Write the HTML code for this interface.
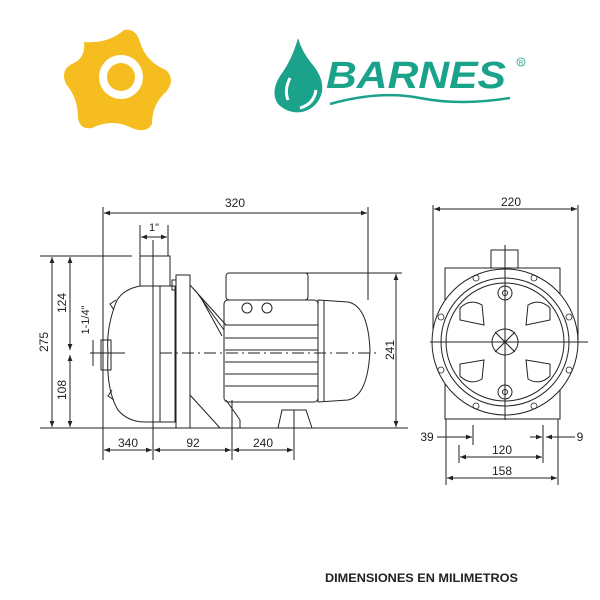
<!DOCTYPE html>
<html><head><meta charset="utf-8"><style>
html,body{margin:0;padding:0;background:#fff;width:600px;height:600px;overflow:hidden}
svg{display:block;font-family:"Liberation Sans",sans-serif}
</style></head><body>
<svg width="600" height="600" viewBox="0 0 600 600" xmlns="http://www.w3.org/2000/svg">
<defs>
<marker id="a" viewBox="0 0 10 10" refX="10" refY="5" markerWidth="6" markerHeight="6" orient="auto-start-reverse"><path d="M0,1 L10,5 L0,9 z" fill="#222"/></marker>
</defs>
<!-- yellow gear logo -->
<path d="M84,42 Q108,44 124,30 Q136,28 140,42 Q146,62 166,70 Q176,80 166,92 Q152,104 152,124 Q146,134 132,128 Q112,118 92,128 Q80,130 78,118 Q78,98 66,84 Q60,70 72,64 Q86,58 84,42 Z" fill="#f5bd1f"/>
<circle cx="121" cy="77" r="22" fill="#fff"/>
<circle cx="121" cy="77" r="14" fill="#f5bd1f"/>
<!-- Barnes logo -->
<path d="M298,38 Q292,60 280,76 Q270,92 278,104 Q288,114 302,112 Q318,108 322,92 Q324,78 312,64 Q302,52 298,38 Z" fill="#1aa38a"/>
<path d="M290,78 Q284,90 288,100" stroke="#fff" stroke-width="3" fill="none"/>
<path d="M300,108 Q314,104 316,90" stroke="#fff" stroke-width="3" fill="none"/>
<text x="326" y="88" font-size="38" font-weight="bold" font-style="italic" fill="#1aa38a" textLength="180" lengthAdjust="spacingAndGlyphs">BARNES</text>
<circle cx="521" cy="62" r="4" fill="none" stroke="#1aa38a" stroke-width="0.8"/>
<text x="521" y="64.5" font-size="6" fill="#1aa38a" text-anchor="middle">R</text>
<path d="M330,104 Q380,90 420,98 Q460,106 510,98" stroke="#1aa38a" stroke-width="2.5" fill="none"/>

<g stroke="#222" stroke-width="1" fill="none">
<line x1="103" y1="207" x2="103" y2="460"/>
<line x1="368" y1="207" x2="368" y2="300"/>
<line x1="140" y1="225" x2="140" y2="256"/>
<line x1="168" y1="225" x2="168" y2="256"/>
<line x1="40" y1="256" x2="132" y2="256"/>
<line x1="40" y1="428" x2="408" y2="428"/>
<line x1="300" y1="273" x2="402" y2="273"/>
<line x1="153" y1="240" x2="153" y2="460"/>
<line x1="232" y1="400" x2="232" y2="460"/>
<line x1="294" y1="410" x2="294" y2="460"/>
<line x1="90" y1="353" x2="125" y2="353"/>
<line x1="104" y1="213" x2="367" y2="213" marker-start="url(#a)" marker-end="url(#a)"/>
<line x1="141" y1="237" x2="167" y2="237" marker-start="url(#a)" marker-end="url(#a)"/>
<line x1="52" y1="257" x2="52" y2="427" marker-start="url(#a)" marker-end="url(#a)"/>
<line x1="70" y1="257" x2="70" y2="350" marker-start="url(#a)" marker-end="url(#a)"/>
<line x1="70" y1="355" x2="70" y2="427" marker-start="url(#a)" marker-end="url(#a)"/>
<line x1="93" y1="340" x2="93" y2="366"/>
<line x1="396" y1="274" x2="396" y2="427" marker-start="url(#a)" marker-end="url(#a)"/>
<line x1="104" y1="450" x2="152" y2="450" marker-start="url(#a)" marker-end="url(#a)"/>
<line x1="154" y1="450" x2="231" y2="450" marker-start="url(#a)" marker-end="url(#a)"/>
<line x1="233" y1="450" x2="293" y2="450" marker-start="url(#a)" marker-end="url(#a)"/>
<rect x="140" y="256" width="30" height="30"/>
<path d="M140,286 Q120,290 115,305 Q106,330 108,353 Q106,390 118,410 Q128,422 145,422 L175,422 L175,286 Z"/>
<path d="M116,300 l-6,4 l4,6 M114,400 l-6,-4 l4,-6"/>
<rect x="101" y="340" width="10" height="30"/>
<path d="M160,286 L160,422"/>
<rect x="176" y="275" width="14" height="153"/>
<rect x="172" y="280" width="4" height="10"/>
<path d="M190,285 L226,325 M195,290 L224,330 M200,296 L222,336 M190,395 L220,428 L240,428 L240,420 L226,400"/>
<rect x="224" y="300" width="94" height="102" rx="4"/>
<rect x="226" y="273" width="82" height="27" rx="3"/>
<circle cx="247" cy="308" r="5"/><circle cx="267" cy="308" r="5"/>
<path d="M225,325 H318 M225,338 H318 M225,350 H318 M225,362 H318 M225,374 H318 M225,386 H318"/>
<path d="M318,300 L348,302 Q368,306 370,350 Q368,396 348,400 L318,402 Z"/>
<path d="M324,301 L324,401"/>
<path d="M282,410 L306,410 L312,428 L278,428 Z"/>
<path d="M160,353 H380" stroke-dasharray="12,4,2,4"/>
<line x1="433" y1="205" x2="433" y2="345"/>
<line x1="578" y1="205" x2="578" y2="345"/>
<line x1="434" y1="209" x2="577" y2="209" marker-start="url(#a)" marker-end="url(#a)"/>
<rect x="445" y="268" width="115" height="151"/>
<rect x="491" y="250" width="27" height="18" fill="#fff"/>
<circle cx="505" cy="342" r="73" fill="#fff"/>
<circle cx="505" cy="342" r="64"/>
<circle cx="505" cy="342" r="59"/>
<circle cx="505" cy="342" r="13"/>
<circle cx="505" cy="293" r="7"/><circle cx="505" cy="293" r="2.5"/>
<circle cx="505" cy="392" r="7"/><circle cx="505" cy="392" r="2.5"/>
<g stroke-width="0.8">
<circle cx="476" cy="278" r="3"/><circle cx="534" cy="278" r="3"/>
<circle cx="441" cy="317" r="3"/><circle cx="569" cy="317" r="3"/>
<circle cx="441" cy="370" r="3"/><circle cx="569" cy="370" r="3"/>
<circle cx="476" cy="406" r="3"/><circle cx="534" cy="406" r="3"/>
</g>
<path d="M460,308 Q470,298 482,305 L484,325 L460,320 Z"/>
<path d="M550,308 Q540,298 528,305 L526,325 L550,320 Z"/>
<path d="M460,376 Q470,386 482,379 L484,360 L460,364 Z"/>
<path d="M550,376 Q540,386 528,379 L526,360 L550,364 Z"/>
<path d="M430,342 H588 M505,245 V420 M495,332 L515,352 M515,332 L495,352"/>
<line x1="446" y1="419" x2="446" y2="485"/>
<line x1="558" y1="419" x2="558" y2="485"/>
<line x1="473" y1="425" x2="473" y2="445"/>
<line x1="459" y1="445" x2="459" y2="463"/>
<line x1="543" y1="425" x2="543" y2="463"/>
<line x1="437" y1="437" x2="472" y2="437" marker-end="url(#a)"/>
<line x1="530" y1="437" x2="542" y2="437" marker-end="url(#a)"/>
<line x1="575" y1="437" x2="546" y2="437" marker-end="url(#a)"/>
<line x1="460" y1="457" x2="542" y2="457" marker-start="url(#a)" marker-end="url(#a)"/>
<line x1="447" y1="478" x2="557" y2="478" marker-start="url(#a)" marker-end="url(#a)"/>
</g>
<g fill="#222" font-size="12">
<text x="235" y="207" text-anchor="middle">320</text>
<text x="154" y="231" text-anchor="middle" font-size="11">1"</text>
<text transform="translate(48,342) rotate(-90)" text-anchor="middle">275</text>
<text transform="translate(66,303) rotate(-90)" text-anchor="middle">124</text>
<text transform="translate(66,390) rotate(-90)" text-anchor="middle">108</text>
<text transform="translate(89,320) rotate(-90)" text-anchor="middle" font-size="11">1-1/4"</text>
<text transform="translate(394,350) rotate(-90)" text-anchor="middle">241</text>
<text x="128" y="447" text-anchor="middle">340</text>
<text x="193" y="447" text-anchor="middle">92</text>
<text x="263" y="447" text-anchor="middle">240</text>
<text x="511" y="206" text-anchor="middle">220</text>
<text x="427" y="441" text-anchor="middle">39</text>
<text x="580" y="441" text-anchor="middle">9</text>
<text x="502" y="454" text-anchor="middle">120</text>
<text x="502" y="475" text-anchor="middle">158</text>
<text x="325" y="582" font-size="11.5" font-weight="bold" textLength="193" lengthAdjust="spacingAndGlyphs">DIMENSIONES EN MILIMETROS</text>
</g>
</svg>
</body></html>
